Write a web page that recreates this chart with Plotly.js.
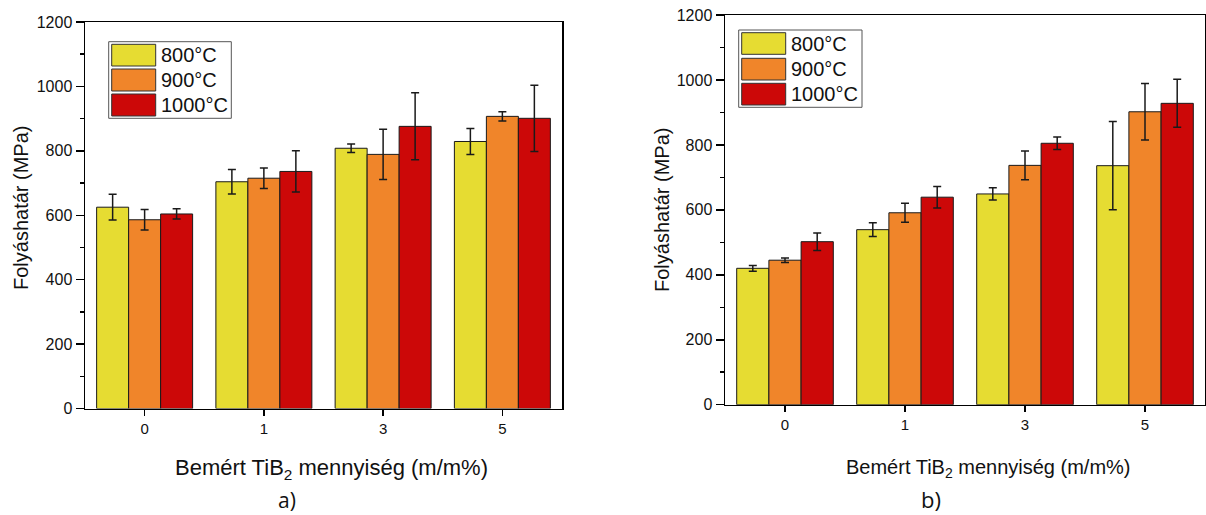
<!DOCTYPE html>
<html>
<head>
<meta charset="utf-8">
<script src="https://cdn.plot.ly/plotly-3.0.1.min.js"></script>
<style>html,body{margin:0;padding:0;background:#fff;}#chart{width:1206px;height:515px;}</style>
</head>
<body>
<div id="chart"></div>
<script>
// ---- data ----
const categories = ['0', '1', '3', '5'];
const seriesNames = ['800°C', '900°C', '1000°C'];
const seriesColors = ['#E6DC32', '#F0852A', '#CC0808'];

// panel a)
const a800 = [625, 704, 808, 829];
const a800Err = [40, 38, 13, 40];
const a900 = [586, 715, 789, 907];
const a900Err = [32, 32, 78, 14];
const a1000 = [604, 736, 876, 901];
const a1000Err = [16, 64, 104, 103];

// panel b)
const b800 = [420, 539, 649, 736];
const b800Err = [9, 21, 19, 136];
const b900 = [445, 591, 737, 902];
const b900Err = [7, 29, 44, 87];
const b1000 = [502, 639, 805, 928];
const b1000Err = [27, 33, 19, 74];

const yTitle = 'Folyáshatár (MPa)';
const xTitle = 'Bemért TiB<sub>2</sub> mennyiség (m/m%)';

// ---- helpers ----
const W = 1206, H = 515;
const px = x => x / W;
const py = y => 1 - y / H;
const FONT = 'Liberation Sans, Arial, sans-serif';

function barTrace(vals, errs, i, xa, ya) {
  return {
    type: 'bar', x: categories, y: vals, name: seriesNames[i],
    xaxis: xa, yaxis: ya, showlegend: false,
    marker: {color: seriesColors[i], line: {color: '#1a1a1a', width: 1}},
    error_y: {type: 'data', array: errs, visible: true, color: '#1a1a1a', thickness: 1.5, width: 4},
    hoverinfo: 'x+y'
  };
}

const data = [
  barTrace(a800, a800Err, 0, 'x', 'y'),
  barTrace(a900, a900Err, 1, 'x', 'y'),
  barTrace(a1000, a1000Err, 2, 'x', 'y'),
  barTrace(b800, b800Err, 0, 'x2', 'y2'),
  barTrace(b900, b900Err, 1, 'x2', 'y2'),
  barTrace(b1000, b1000Err, 2, 'x2', 'y2')
];

function xAxis(domain, anchor) {
  return {
    domain: domain, anchor: anchor, type: 'category', range: [-0.5, 3.5],
    showline: true, linecolor: '#000', linewidth: 1.5, mirror: true,
    ticks: 'outside', ticklen: 6, tickwidth: 1.5, tickcolor: '#000',
    tickfont: {family: FONT, size: 15, color: '#111'},
    showgrid: false, zeroline: false, fixedrange: true
  };
}
function yAxis(domain, anchor) {
  return {
    domain: domain, anchor: anchor, range: [0, 1200], dtick: 200, tick0: 0,
    showline: true, linecolor: '#000', linewidth: 1.5, mirror: true,
    ticks: 'outside', ticklen: 8, tickwidth: 1.5, tickcolor: '#000',
    minor: {dtick: 100, ticks: 'outside', ticklen: 4, tickwidth: 1.5, tickcolor: '#000', showgrid: false},
    tickfont: {family: FONT, size: 16, color: '#111'},
    showgrid: false, zeroline: false, fixedrange: true
  };
}

const shapes = [];
const annotations = [];

function legend(box, swX, rows, textX) {
  shapes.push({type: 'rect', xref: 'paper', yref: 'paper',
    x0: px(box[0]), x1: px(box[1]), y0: py(box[2]), y1: py(box[3]),
    line: {color: '#555', width: 1}, fillcolor: '#fff', layer: 'above'});
  rows.forEach((r, i) => {
    shapes.push({type: 'rect', xref: 'paper', yref: 'paper',
      x0: px(swX[0]), x1: px(swX[1]), y0: py(r[0]), y1: py(r[1]),
      line: {color: '#333', width: 1}, fillcolor: seriesColors[i], layer: 'above'});
    annotations.push({xref: 'paper', yref: 'paper', x: px(textX), y: py((r[0] + r[1]) / 2),
      xanchor: 'left', yanchor: 'middle', showarrow: false, text: seriesNames[i],
      font: {family: FONT, size: 20, color: '#111'}});
  });
}
legend([108.7, 231.3, 41.7, 118.3], [111.7, 155.7], [[44.3, 66], [69, 91], [94, 116]], 159);
legend([738.7, 862, 30, 107.3], [741.7, 785.7], [[32.7, 54.3], [58.3, 80], [83.3, 105]], 789);

// axis titles
annotations.push({xref: 'paper', yref: 'paper', x: px(21), y: py(208), textangle: -90,
  xanchor: 'center', yanchor: 'middle', showarrow: false, text: yTitle,
  font: {family: FONT, size: 20, color: '#111'}});
annotations.push({xref: 'paper', yref: 'paper', x: px(662), y: py(210), textangle: -90,
  xanchor: 'center', yanchor: 'middle', showarrow: false, text: yTitle,
  font: {family: FONT, size: 20, color: '#111'}});
annotations.push({xref: 'paper', yref: 'paper', x: px(331), y: py(469),
  xanchor: 'center', yanchor: 'middle', showarrow: false, text: xTitle,
  font: {family: FONT, size: 22, color: '#111'}});
annotations.push({xref: 'paper', yref: 'paper', x: px(988), y: py(468),
  xanchor: 'center', yanchor: 'middle', showarrow: false, text: xTitle,
  font: {family: FONT, size: 20, color: '#111'}});
// panel labels
annotations.push({xref: 'paper', yref: 'paper', x: px(287), y: py(500),
  xanchor: 'center', yanchor: 'middle', showarrow: false, text: 'a)',
  font: {family: 'Open Sans, Noto Sans, sans-serif', size: 21, color: '#111'}});
annotations.push({xref: 'paper', yref: 'paper', x: px(931), y: py(499),
  xanchor: 'center', yanchor: 'middle', showarrow: false, text: 'b)',
  font: {family: 'Open Sans, Noto Sans, sans-serif', size: 22, color: '#111'}});

const layout = {
  width: W, height: H,
  margin: {l: 0, r: 0, t: 0, b: 0},
  paper_bgcolor: '#fff', plot_bgcolor: '#fff',
  barmode: 'group', bargap: 0.195, bargroupgap: 0,
  showlegend: false,
  font: {family: FONT, color: '#111'},
  xaxis: xAxis([px(85), px(562)], 'y'),
  yaxis: yAxis([py(408.5), py(22)], 'x'),
  xaxis2: xAxis([px(725), px(1205)], 'y2'),
  yaxis2: yAxis([py(404.7), py(15)], 'x2'),
  shapes: shapes,
  annotations: annotations
};

Plotly.newPlot('chart', data, layout, {displayModeBar: false, staticPlot: true});
</script>
</body>
</html>
